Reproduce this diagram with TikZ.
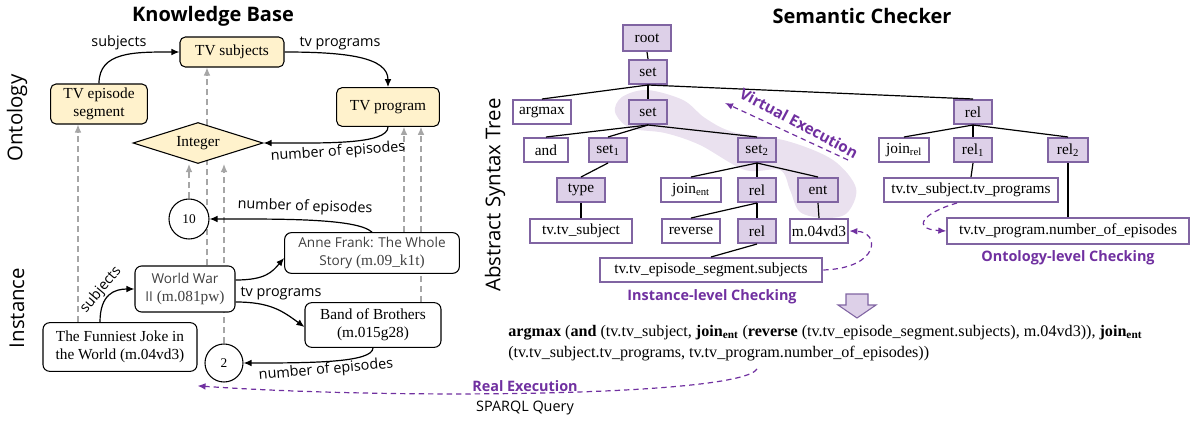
\documentclass[tikz,border=0pt]{standalone}
\usepackage{fontspec}
\setmainfont{Liberation Serif}
\setsansfont{Open Sans}
\usetikzlibrary{arrows.meta,shapes.geometric,backgrounds}

\definecolor{kbyellow}{HTML}{FFF2CC}
\definecolor{kbgray}{HTML}{A6A6A6}
\definecolor{astpurple}{HTML}{8064A2}
\definecolor{astfill}{HTML}{DDD0E8}
\definecolor{blobfill}{HTML}{EAE1EF}
\definecolor{chkpurple}{HTML}{7030A0}

\newcommand{\serifnode}{\fontsize{11.5}{13.8}\selectfont}
\newcommand{\instsans}{\sffamily\fontsize{10.2}{13.8}\selectfont}
\newcommand{\lblfont}{\sffamily\fontsize{10.8}{13}\selectfont}

\begin{document}
\begin{tikzpicture}[x=0.75pt,y=-0.75pt,
    kbbox/.style={draw, rounded corners=4pt, fill=kbyellow, line width=0.8pt, align=center, inner sep=1pt, font=\serifnode},
    inst/.style={draw, rounded corners=5pt, fill=white, line width=0.8pt, align=center, inner sep=1pt, font=\serifnode},
    val/.style={draw, circle, fill=white, line width=0.8pt, inner sep=0pt, font=\fontsize{10}{12}\selectfont},
    kbarrow/.style={-{Latex[length=6pt,width=5pt]}, line width=0.9pt},
    kbdash/.style={draw=kbgray, line width=0.8pt, dash pattern=on 4.5pt off 3pt, -{Latex[length=6pt,width=5pt]}},
    lbl/.style={font=\lblfont, inner sep=1pt},
    ast/.style={draw=astpurple, line width=1.5pt, fill=white, minimum height=18pt, inner sep=1pt, font=\serifnode},
    astsel/.style={ast, fill=astfill},
    astline/.style={line width=0.9pt},
    chk/.style={draw=chkpurple, line width=0.9pt, dash pattern=on 4pt off 3pt, -{Latex[length=6pt,width=5pt]}},
    chklbl/.style={text=chkpurple, font=\sffamily\bfseries\fontsize{10.8}{13}\selectfont},
    paneltitle/.style={font=\sffamily\bfseries\fontsize{15}{18}\selectfont},
    side/.style={rotate=90, font=\sffamily\fontsize{15.3}{18}\selectfont}]
\useasboundingbox (0,0) rectangle (1195,421);

% ---------------- knowledge base ----------------
\node[paneltitle] (kbtitle) at (213,16) {Knowledge Base};
\node[side] (onto) at (17,118) {Ontology};
\node[side] (insts) at (17,308) {Instance};

\node[kbbox, minimum width=78pt, minimum height=22.5pt] (tvsub) at (232,52) {TV subjects};
\node[kbbox, minimum width=72.5pt, minimum height=30pt] (seg) at (99,104) {TV episode\\segment};
\node[kbbox, minimum width=77pt, minimum height=29pt] (prog) at (388,107) {TV program};
\node[diamond, draw, fill=kbyellow, line width=0.8pt, aspect=3.2, minimum width=97.5pt, minimum height=30.75pt, inner sep=0pt, font=\serifnode] (int) at (198,143) {Integer};

\node[val, minimum size=30pt] (ten) at (189,219) {10};
\node[val, minimum size=28.5pt] (two) at (224,363) {2};
\node[inst, text=black!75, minimum width=131pt, minimum height=30.5pt] (af) at (372,253) {{\instsans Anne Frank: The Whole}\\{\instsans Story} (m.09\_k1t)};
\node[inst, text=black!75, minimum width=75pt, minimum height=34.5pt] (ww) at (185,289) {{\instsans World War}\\{\instsans II} (m.081pw)};
\node[inst, minimum width=102pt, minimum height=33.5pt] (bob) at (373,325) {Band of Brothers\\(m.015g28)};
\node[inst, minimum width=115.5pt, minimum height=36.5pt] (joke) at (120,347) {The Funniest Joke in\\the World (m.04vd3)};

% ontology relations
\draw[kbarrow] (seg.north) .. controls +(0,-32) and +(-45,0) .. (tvsub.west);
\draw[kbarrow] (tvsub.east) .. controls +(62,0) and +(0,-30) .. (prog.north);
\draw[kbarrow] (prog.south) .. controls +(0,18) and +(60,0) .. (int.east);
\node[lbl] (lsub) at (119,43) {subjects};
\node[lbl] (ltvp) at (340,43) {tv programs};
\node[lbl, rotate=4] (lnum) at (338,152) {number of episodes};

% instance relations
\draw[kbarrow] ([xshift=-15pt]joke.north) .. controls +(0,-28) and +(-20,0) .. (ww.west);
\draw[kbarrow] ([yshift=6.75pt]ww.east) .. controls +(30,0) and +(-12,14) .. ([yshift=-3.75pt]af.west);
\draw[kbarrow] ([yshift=-9.75pt]ww.east) .. controls +(35,0) and +(-22,-16) .. ([yshift=-1.5pt]bob.west);
\draw[kbarrow] (af.north) .. controls +(-15,-14) and +(70,0) .. (ten.east);
\draw[kbarrow] (bob.south) .. controls +(0,15) and +(65,0) .. (two.east);
\node[lbl, rotate=50, inner sep=0pt] (lisub) at (101,290) {subjects};
\node[lbl] (litvp) at (281,293) {tv programs};
\node[lbl, rotate=-2] (linum1) at (305,207) {number of episodes};
\node[lbl, rotate=5] (linum2) at (326,370) {number of episodes};

% instance-of links
\begin{scope}[on background layer]
  \draw[kbdash] ([xshift=-31.5pt]joke.north) -- ([xshift=-31.5pt]joke.north |- seg.south);
  \draw[kbdash] (ten.north) -- (ten.north |- int.south);
  \draw[kbdash] ([xshift=16.5pt]ww.north) -- ([xshift=16.5pt]ww.north |- tvsub.south);
  \draw[kbdash] (two.north) -- (two.north |- int.south);
  \draw[kbdash] ([xshift=24pt]af.north) -- ([xshift=24pt]af.north |- prog.south);
  \draw[kbdash] ([xshift=36pt]bob.north) -- ([xshift=36pt]bob.north |- prog.south);
\end{scope}

% ---------------- semantic checker ----------------
\node[paneltitle] (sctitle) at (862,16) {Semantic Checker};
\node[side] (astlbl) at (495,195) {Abstract Syntax Tree};

% executed sub-tree
\fill[blobfill] plot[smooth cycle, tension=0.55] coordinates {(615,112) (622,97) (647,90) (683,100) (705,118) (733,132) (787,141) (833,160) (856,188) (847,213) (825,218) (800,212) (790,190) (780,170) (745,170) (700,145) (665,133) (630,128)};

\node[astsel, minimum width=36pt, minimum height=19.5pt] (root) at (647,38) {root};
\node[astsel, minimum width=29pt] (set0) at (648,72) {set};
\node[ast, minimum width=44pt] (argmax) at (542,112) {argmax};
\node[astsel, minimum width=29pt] (setA) at (648,112) {set};
\node[ast, minimum width=33pt] (andn) at (546,150) {and};
\node[astsel, minimum width=29pt] (set1) at (608,150) {set\textsubscript{1}};
\node[astsel, minimum width=29pt] (set2) at (757,150) {set\textsubscript{2}};
\node[astsel, minimum width=36.5pt] (typ) at (581,190) {type};
\node[ast, minimum width=45pt] (joinent) at (691,190) {join\textsubscript{ent}};
\node[astsel, minimum width=29pt] (relA) at (757,190) {rel};
\node[astsel, minimum width=30pt] (ent) at (818,190) {ent};
\node[ast, minimum width=77pt] (tvsubj) at (581,231) {tv.tv\_subject};
\node[ast, minimum width=44pt] (rev) at (691,231) {reverse};
\node[astsel, minimum width=29pt] (relB) at (757,231) {rel};
\node[ast, minimum width=44pt] (mid) at (819,231) {m.04vd3};
\node[ast, minimum width=167pt] (segsub) at (711,270) {tv.tv\_episode\_segment.subjects};
\node[astsel, minimum width=29pt] (relR) at (973,112) {rel};
\node[ast, minimum width=38pt] (joinrel) at (904,150) {join\textsubscript{rel}};
\node[astsel, minimum width=29pt] (rel1) at (973,150) {rel\textsubscript{1}};
\node[astsel, minimum width=30pt] (rel2) at (1068,150) {rel\textsubscript{2}};
\node[ast, minimum width=131pt] (tvprog) at (971,190) {tv.tv\_subject.tv\_programs};
\node[ast, minimum width=181pt, minimum height=19pt] (numep) at (1068,231) {tv.tv\_program.number\_of\_episodes};

\foreach \p/\c in {root/set0, set0/argmax, set0/setA, set0/relR, setA/andn, setA/set1, setA/set2,
    set1/typ, typ/tvsubj, set2/joinent, set2/relA, set2/ent, relA/rev, relA/relB, relB/segsub,
    ent/mid, relR/joinrel, relR/rel1, relR/rel2, rel1/tvprog, rel2/numep}
  \draw[astline] (\p.south) -- (\c.north);

% checking and execution
\coordinate (vstart) at (848,160);
\coordinate (vend) at (725,103);
\draw[chk] (vstart) -- (vend);
\node[chklbl, rotate=-28, font=\sffamily\bfseries\fontsize{11.5}{14}\selectfont] (vlbl) at (799,123) {Virtual Execution};

\draw[chk] (segsub.east) .. controls +(57,-2) and +(31,1) .. (mid.east);
\node[chklbl] (ichk) at (712,297) {Instance-level Checking};

\draw[chk] ([xshift=-10.5pt]tvprog.south) .. controls +(-35,10) and +(-35,-2) .. (numep.west);
\node[chklbl] (ochk) at (1068,258) {Ontology-level Checking};

\draw[draw=astpurple, fill=astfill, line width=0.8pt] (846,294) -- (868,294) -- (868,305) -- (876,305) -- (857,318) -- (838,305) -- (846,305) -- cycle;

\node[anchor=north west, align=left, inner sep=0pt, font=\fontsize{12.1}{15.5}\selectfont] (query) at (508,325)
  {\textbf{argmax} (\textbf{and} (tv.tv\_subject, \textbf{join\textsubscript{ent}} (\textbf{reverse} (tv.tv\_episode\_segment.subjects), m.04vd3)), \textbf{join\textsubscript{ent}}\\
   (tv.tv\_subject.tv\_programs, tv.tv\_program.number\_of\_episodes))};

\coordinate (qstart) at (757,369);
\draw[chk] (qstart) .. controls +(-17,27) and +(203,14) .. ([yshift=-10.5pt]joke.south east);
\node[chklbl] (rlbl) at (525,386) {Real Execution};
\node[lbl] (sparql) at (525,408) {SPARQL Query};
\end{tikzpicture}
\end{document}
